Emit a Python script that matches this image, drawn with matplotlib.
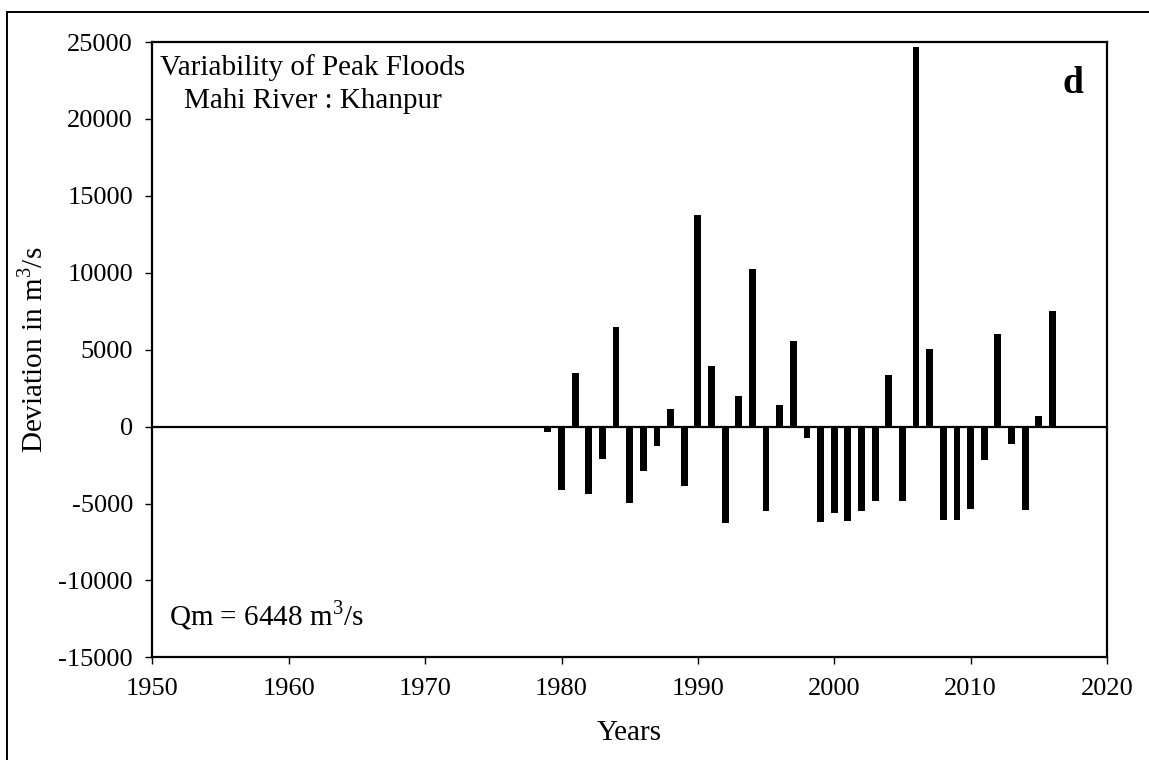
import matplotlib.pyplot as plt
from matplotlib.patches import Rectangle

# Annual peak flood deviations from the mean (m3/s), Mahi River at Khanpur
years = [1959, 1979, 1980, 1981, 1982, 1983, 1984, 1985, 1986, 1987, 1988, 1989,
         1990, 1991, 1992, 1993, 1994, 1995, 1996, 1997, 1998, 1999, 2000,
         2001, 2002, 2003, 2004, 2005, 2006, 2007, 2008, 2009, 2010, 2011,
         2012, 2013, 2014, 2015, 2016]
deviation = [-40, -320, -4100, 3480, -4350, -2100, 6500, -4950, -2870, -1250, 1150, -3830,
             13780, 3920, -6290, 2010, 10270, -5470, 1400, 5560, -750, -6190, -5600,
             -6120, -5520, -4840, 3330, -4840, 24700, 5070, -6060, -6060, -5360, -2180,
             6000, -1140, -5430, 690, 7490]
mean_flow = 6448

xticks = list(range(1950, 2021, 10))
yticks = list(range(-15000, 25001, 5000))

plt.rcParams['font.family'] = ['Liberation Serif', 'DejaVu Serif']
plt.rcParams['mathtext.fontset'] = 'custom'
plt.rcParams['mathtext.rm'] = 'Liberation Serif'
plt.rcParams['axes.unicode_minus'] = False

fig = plt.figure(figsize=(11.49, 7.6), dpi=100)
ax = fig.add_axes([0.1327, 0.1351, 0.9634 - 0.1327, 0.9447 - 0.1351])

ax.bar(years, deviation, width=0.5, color='black', zorder=3)
ax.axhline(0, color='black', lw=1.6, zorder=4)

ax.set_xlim(1950, 2020)
ax.set_ylim(-15000, 25000)
ax.set_xticks(xticks)
ax.set_yticks(yticks)
ax.tick_params(direction='out', length=5, width=1, labelsize=19)
ax.tick_params(axis='x', pad=10)
ax.tick_params(axis='y', pad=9)
for s in ax.spines.values():
    s.set_linewidth(1.6)

ax.set_xlabel('Years', fontsize=21, labelpad=14)
ax.set_ylabel('Deviation in m$^3$/s', fontsize=21, labelpad=7)

ax.text(0.168, 0.9464, 'Variability of Peak Floods', transform=ax.transAxes,
        ha='center', va='baseline', fontsize=21)
ax.text(0.168, 0.8927, 'Mahi River : Khanpur', transform=ax.transAxes,
        ha='center', va='baseline', fontsize=21)
ax.text(0.9644, 0.9171, 'd', transform=ax.transAxes, ha='center', va='baseline',
        fontsize=27, fontweight='bold')
ax.text(0.0176, 0.0525, f'Qm = {mean_flow} m$^3$/s', transform=ax.transAxes,
        ha='left', va='baseline', fontsize=21)

# outer frame around the whole panel
fig.patches.append(Rectangle((7 / 1149, -0.05), 1.2, 1 - 12 / 760 + 0.05,
                             transform=fig.transFigure, fill=False,
                             edgecolor='black', lw=1.4))

fig.savefig('out.png', dpi=100)
